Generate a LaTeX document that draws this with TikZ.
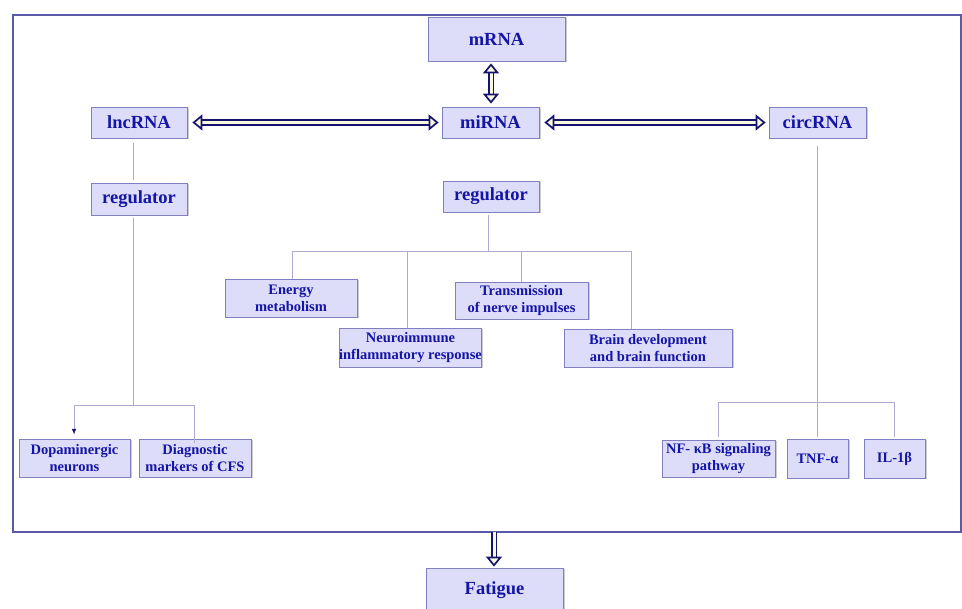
\documentclass[tikz,border=0pt]{standalone}
\usepackage{fontspec}
\setmainfont{Liberation Serif}
\usetikzlibrary{arrows.meta,shadows}
\definecolor{boxfill}{RGB}{221,221,250}
\definecolor{boxdraw}{RGB}{128,128,192}
\definecolor{txt}{RGB}{20,20,165}
\definecolor{conn}{RGB}{170,170,210}
\definecolor{framec}{RGB}{90,90,170}
\definecolor{navy}{RGB}{20,20,110}
\definecolor{tipfill}{RGB}{250,250,225}
\begin{document}
\begin{tikzpicture}[x=1pt,y=-1pt,
 box/.style={draw=boxdraw, line width=0.8pt, fill=boxfill, text=txt, align=center, inner sep=0pt,
   drop shadow={shadow xshift=1.5pt, shadow yshift=-1.5pt, fill=black!40, opacity=0.5}},
 big/.style={box, font=\fontsize{18.5}{20}\selectfont\bfseries},
 small/.style={box, font=\fontsize{14.5}{17}\selectfont\bfseries},
 link/.style={draw=conn, line width=0.8pt},
 dbl/.style={draw=navy, line width=1.7pt, double=tipfill, double distance=3pt, {Triangle[length=10pt,width=16pt,fill=tipfill,line width=1.7pt]}-{Triangle[length=10pt,width=16pt,fill=tipfill,line width=1.7pt]}},
 sgl/.style={draw=navy, line width=1.7pt, double=tipfill, double distance=3pt, -{Triangle[length=10pt,width=16pt,fill=tipfill,line width=1.7pt]}}
]
\useasboundingbox (0,0) rectangle (962,609);
% frame
\draw[framec, line width=2.5pt] (13,15) rectangle (961,532);
% top row
\node[big, minimum width=137pt, minimum height=44pt] (mrna) at (496.5,39) {mRNA};
\node[big, minimum width=96pt, minimum height=31pt] (lnc) at (139,122.5) {lncRNA};
\node[big, minimum width=97pt, minimum height=31pt] (mi) at (490.5,122.5) {miRNA};
\node[big, minimum width=97pt, minimum height=31pt] (circ) at (817.5,122.5) {circRNA};
\node[big, minimum width=96pt, minimum height=32pt] (reg1) at (139,199) {regulator};
\node[big, minimum width=96pt, minimum height=31pt] (reg2) at (491,196.5) {regulator};
% middle row
\node[small, minimum width=132pt, minimum height=38pt] (energy) at (291,298) {Energy\\metabolism};
\node[small, minimum width=133pt, minimum height=37pt] (trans) at (521.5,300.5) {Transmission\\of nerve impulses};
\node[small, minimum width=141pt, minimum height=39pt] (neuro) at (410.5,347.5) {Neuroimmune\\inflammatory response};
\node[small, minimum width=168pt, minimum height=38pt] (brain) at (648,348) {Brain development\\and brain function};
% bottom row
\node[small, minimum width=111pt, minimum height=38pt] (dopa) at (74.5,458) {Dopaminergic\\neurons};
\node[small, minimum width=112pt, minimum height=38pt] (diag) at (195,458) {Diagnostic\\markers of CFS};
\node[small, minimum width=113pt, minimum height=37pt] (nf) at (718.5,458.5) {NF- κB signaling\\pathway};
\node[small, minimum width=61pt, minimum height=39pt] (tnf) at (817.5,458.5) {TNF-α};
\node[small, minimum width=61pt, minimum height=39pt] (il) at (894.5,458.5) {IL-1β};
\node[big, minimum width=137pt, minimum height=44pt] (fat) at (494.5,590) {Fatigue};
% junctions
\coordinate (jl) at (133,405);
\coordinate (jm) at (488,251);
\coordinate (jr) at (817,402);
\coordinate (fb) at (494,532);
\coordinate (dt) at (74,434);
\coordinate (ds) at (74,429);
% double arrows
\draw[dbl] ([xshift=5pt]lnc.east) -- ([xshift=-3pt]mi.west);
\draw[dbl] ([xshift=5pt]mi.east) -- ([xshift=-3pt]circ.west);
\draw[dbl] ([xshift=-5.5pt,yshift=-2pt]mrna.south) -- ([xshift=0.5pt,yshift=3pt]mi.north);
\draw[sgl] (fb) -- ([yshift=1pt]fat.north -| fb);
% left tree
\draw[link, shorten <=5pt, shorten >=3pt] (lnc.south -| jl) -- (reg1.north -| jl);
\draw[link, shorten <=3pt] (reg1.south -| jl) -- (jl);
\draw[link] (jl) -| (dt);
\draw[navy, line width=0.6pt, -{Latex[length=5pt,width=4.5pt]}] (ds) -- (dt);
\draw[link] (jl) -| ([yshift=-4pt]diag.north -| 194,0);
% middle tree
\draw[link, shorten <=3pt] (reg2.south -| jm) -- (jm);
\draw[link] (292,251) -- (631,251);
\draw[link] (energy.north -| 292,0) -- (292,251);
\draw[link] (neuro.north -| 407,0) -- (407,251);
\draw[link] (trans.north -| 521,0) -- (521,251);
\draw[link] (brain.north -| 631,0) -- (631,251);
% right tree
\draw[link, shorten <=8pt] (circ.south -| jr) -- (jr);
\draw[link] (718,402) -- (894,402);
\draw[link, shorten >=3pt] (718,402) -- (nf.north -| 718,0);
\draw[link, shorten >=2pt] (jr) -- (tnf.north -| jr);
\draw[link, shorten >=2pt] (894,402) -- (il.north -| 894,0);
\end{tikzpicture}
\end{document}
